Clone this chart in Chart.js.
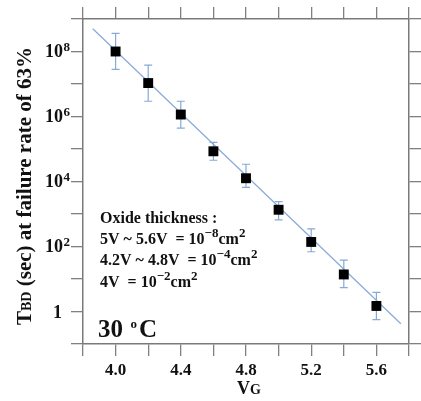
<!DOCTYPE html>
<html><head><meta charset="utf-8">
<script src="https://cdn.jsdelivr.net/npm/chart.js@4"></script>
<style>html,body{margin:0;padding:0;background:#fff}#wrap{width:421px;height:401px}</style>
</head><body><div id="wrap"><canvas id="c" width="421" height="401"></canvas></div>
<script>
// ---- data ----
const vg = [4.0, 4.2, 4.4, 4.6, 4.8, 5.0, 5.2, 5.4, 5.6];
const tbd = [1.0e8, 1.07e7, 1.15e6, 8.5e4, 1.26e4, 1.35e3, 138, 13.8, 1.48];
const errHigh = [3.6e8, 3.8e7, 2.95e6, 1.6e5, 3.4e4, 2.4e3, 347, 38, 3.9];
const errLow = [2.8e7, 2.95e6, 4.4e5, 4.5e4, 6.6e3, 660, 69, 5.4, 0.56];
const fitX = [3.86, 5.75];
const fitY = [5.0e8, 0.42];
const xTickLabels = ['4.0', '4.4', '4.8', '5.2', '5.6'];
const yTickExponents = [8, 6, 4, 2, 0];
const yDecades = [-1, 0, 1, 2, 3, 4, 5, 6, 7, 8, 9];
const noteLines = [
  [['Oxide thickness :', 0]],
  [['5V ~ 5.6V  = 10', 0], ['\u22128', 1], ['cm', 0], ['2', 1]],
  [['4.2V ~ 4.8V  = 10', 0], ['\u22124', 1], ['cm', 0], ['2', 1]],
  [['4V  = 10', 0], ['\u22122', 1], ['cm', 0], ['2', 1]]
];
const tempText = ['30', 'o', 'C'];

const SERIF = '"Liberation Serif", "Times New Roman", serif';
const FRAME = '#7a7a7a';
const BLUE = '#86a9d8';

const errorBars = {
  id: 'errorBars',
  beforeDatasetDraw(chart, args) {
    if (args.index !== 0) return;
    const ctx = chart.ctx, xs = chart.scales.x, ys = chart.scales.y;
    ctx.save();
    ctx.strokeStyle = BLUE; ctx.lineWidth = 1.2;
    for (let i = 0; i < vg.length; i++) {
      const px = xs.getPixelForValue(vg[i]);
      const yh = ys.getPixelForValue(errHigh[i]);
      const yl = ys.getPixelForValue(errLow[i]);
      ctx.beginPath();
      ctx.moveTo(px, yh); ctx.lineTo(px, yl);
      ctx.moveTo(px - 4, yh); ctx.lineTo(px + 4, yh);
      ctx.moveTo(px - 4, yl); ctx.lineTo(px + 4, yl);
      ctx.stroke();
    }
    ctx.restore();
  }
};

const texts = {
  id: 'texts',
  afterDraw(chart) {
    const ctx = chart.ctx, xs = chart.scales.x, ys = chart.scales.y;
    ctx.save();
    ctx.fillStyle = '#111';
    // x tick labels
    ctx.font = 'bold 17px ' + SERIF;
    ctx.textAlign = 'center'; ctx.textBaseline = 'alphabetic';
    xTickLabels.forEach(l => ctx.fillText(l, xs.getPixelForValue(parseFloat(l)), 374.5));
    // y tick labels
    yTickExponents.forEach(e => {
      const py = ys.getPixelForValue(Math.pow(10, e));
      if (e === 0) {
        ctx.font = 'bold 18px ' + SERIF; ctx.textAlign = 'right';
        ctx.fillText('1', 62, py + 6);
      } else {
        ctx.font = 'bold 18px ' + SERIF; ctx.textAlign = 'right';
        ctx.fillText('10', 63, py + 5.5);
        ctx.font = 'bold 13px ' + SERIF; ctx.textAlign = 'left';
        ctx.fillText(String(e), 63.5, py - 0.5);
      }
    });
    // x title
    ctx.textAlign = 'left';
    ctx.font = 'bold 18px ' + SERIF;
    ctx.fillText('V', 237, 394);
    const vw = ctx.measureText('V').width;
    ctx.font = 'bold 14px ' + SERIF;
    ctx.fillText('G', 237 + vw, 394);
    // y title
    const parts = [['T', 21], ['BD', 14], [' (sec) at failure rate of 63%', 21]];
    let total = 0;
    parts.forEach(p => { ctx.font = 'bold ' + p[1] + 'px ' + SERIF; total += ctx.measureText(p[0]).width; });
    ctx.save();
    ctx.translate(31, 186);
    ctx.rotate(-Math.PI / 2);
    let cx = -total / 2;
    parts.forEach(p => {
      ctx.font = 'bold ' + p[1] + 'px ' + SERIF;
      ctx.fillText(p[0], cx, 0);
      cx += ctx.measureText(p[0]).width;
    });
    ctx.restore();
    // notes
    noteLines.forEach((line, i) => {
      let x = 100;
      const base = 222.5 + i * 21.4;
      line.forEach(seg => {
        if (seg[1]) { ctx.font = 'bold 13px ' + SERIF; ctx.fillText(seg[0], x, base - 7); }
        else { ctx.font = 'bold 16px ' + SERIF; ctx.fillText(seg[0], x, base); }
        x += ctx.measureText(seg[0]).width;
      });
    });
    // temperature
    ctx.font = 'bold 25px ' + SERIF;
    ctx.fillText(tempText[0], 98, 337);
    ctx.font = 'bold 13px ' + SERIF;
    ctx.fillText(tempText[1], 130.5, 327.5);
    ctx.font = 'bold 25px ' + SERIF;
    ctx.fillText(tempText[2], 139, 337);
    ctx.restore();
  }
};

const gridOpts = { drawOnChartArea: false, drawTicks: true, tickLength: 12, color: '#808080', lineWidth: 1.3 };
const borderOpts = { display: true, color: FRAME, width: 1.5 };
const logTicks = s => { s.ticks = yDecades.map(e => ({ value: Math.pow(10, e) })); };

new Chart(document.getElementById('c'), {
  type: 'scatter',
  data: {
    datasets: [
      {
        data: vg.map((v, i) => ({ x: v, y: tbd[i] })),
        pointStyle: 'rect', pointRadius: 7, pointHoverRadius: 7,
        backgroundColor: '#000', borderColor: '#000', borderWidth: 0,
        xAxisID: 'x', yAxisID: 'y'
      },
      {
        data: fitX.map((v, i) => ({ x: v, y: fitY[i] })),
        showLine: true, borderColor: BLUE, borderWidth: 1.2, pointRadius: 0,
        xAxisID: 'x', yAxisID: 'y'
      }
    ]
  },
  options: {
    responsive: false, animation: false, devicePixelRatio: 1,
    layout: { padding: { left: 70, top: 6, right: 0, bottom: 44 } },
    plugins: { legend: { display: false }, tooltip: { enabled: false } },
    scales: {
      x: { type: 'linear', position: 'bottom', min: 3.8, max: 5.8,
           ticks: { display: false, stepSize: 0.2 }, grid: gridOpts, border: borderOpts,
           afterFit: s => { s.height = 13; } },
      x2: { type: 'linear', position: 'top', min: 3.8, max: 5.8,
           ticks: { display: false, stepSize: 0.2 }, grid: gridOpts, border: borderOpts,
           afterFit: s => { s.height = 13; } },
      y: { type: 'logarithmic', position: 'left', min: 0.1, max: 1e9,
           ticks: { display: false }, grid: gridOpts, border: borderOpts,
           afterBuildTicks: logTicks, afterFit: s => { s.width = 13; } },
      y2: { type: 'logarithmic', position: 'right', min: 0.1, max: 1e9,
           ticks: { display: false }, grid: gridOpts, border: borderOpts,
           afterBuildTicks: logTicks, afterFit: s => { s.width = 12; } }
    }
  },
  plugins: [errorBars, texts]
});
</script>
</body></html>
